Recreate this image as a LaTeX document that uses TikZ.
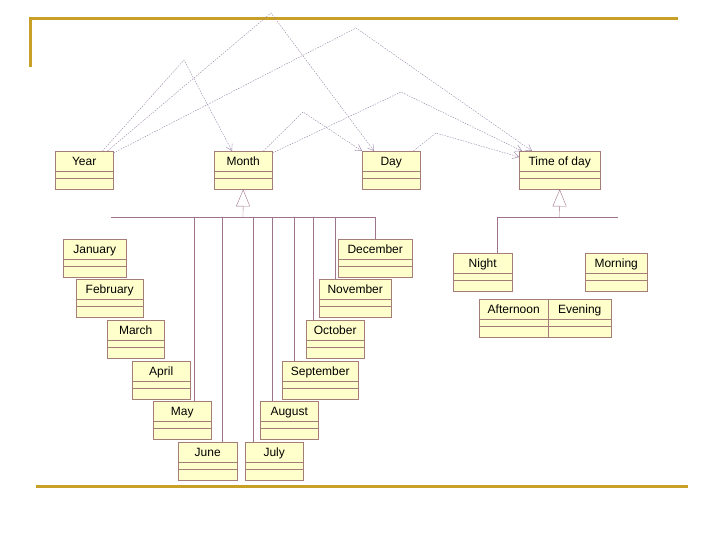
\documentclass[tikz,border=0pt]{standalone}
\usepackage{fontspec}
\setmainfont{Liberation Sans}
\usetikzlibrary{arrows.meta, calc}
\definecolor{gold}{RGB}{200,160,40}
\definecolor{boxfill}{RGB}{255,255,204}
\definecolor{boxedge}{RGB}{165,125,120}
\definecolor{genc}{RGB}{160,115,140}
\definecolor{depc}{RGB}{150,130,165}

\begin{document}
\begin{tikzpicture}[x=1pt, y=-1pt,
  every node/.style={font=\fontsize{12}{14}\selectfont},
  >={Straight Barb[length=6pt, width=7pt]},
  classbox/.style={draw=boxedge, fill=boxfill, anchor=north west,
    inner xsep=0pt, inner ysep=5.5pt, text height=9pt, text depth=18pt,
    minimum width=#1,
    path picture={
      \draw[boxedge] ([yshift=-20pt]path picture bounding box.north west) -- ([yshift=-20pt]path picture bounding box.north east);
      \draw[boxedge] ([yshift=-27pt]path picture bounding box.north west) -- ([yshift=-27pt]path picture bounding box.north east);
    }},
  genline/.style={draw=genc, thin},
  depline/.style={draw=depc, thin, dash pattern=on 1.5pt off 1.2pt, ->},
  frame/.style={draw=gold, line width=2.7pt}]
  \useasboundingbox (0,0) rectangle (720,540);

  % Frame
  \draw[frame] (30.5,67) |- (678,18.7);
  \draw[frame] (36,486.3) -- (687.5,486.3);

  % Top classes
  \node[classbox=58pt] (Year)  at (55,151)  {Year};
  \node[classbox=58pt] (Month) at (214,151) {Month};
  \node[classbox=58pt] (Day)   at (362,151) {Day};
  \node[classbox=81pt] (Time)  at (519,151) {Time of day};

  % Months
  \node[classbox=63pt] (January)   at (63,239)  {January};
  \node[classbox=67pt] (February)  at (76,279)  {February};
  \node[classbox=57pt] (March)     at (107,320) {March};
  \node[classbox=58pt] (April)     at (132,361) {April};
  \node[classbox=58pt] (May)       at (153,401) {May};
  \node[classbox=59pt] (June)      at (178,442) {June};
  \node[classbox=58pt] (July)      at (245,442) {July};
  \node[classbox=58pt] (August)    at (260,401) {August};
  \node[classbox=76pt] (September) at (282,361) {September};
  \node[classbox=58pt] (October)   at (306,320) {October};
  \node[classbox=72pt] (November)  at (319,279) {November};
  \node[classbox=74pt] (December)  at (338,239) {December};

  % Times of day
  \node[classbox=59pt] (Night)     at (453,253) {Night};
  \node[classbox=62pt] (Morning)   at (585,253) {Morning};
  \node[classbox=69pt] (Afternoon) at (479,299) {Afternoon};
  \node[classbox=63pt] (Evening)   at (548,299) {Evening};

  % Generalization of Month
  \coordinate (mbar)  at (243,217);
  \coordinate (mleft) at (111,217);
  \draw[genline, -{Triangle[open, length=17pt, width=14pt]}] (mbar) -- (Month.south);
  \draw[genline] (mleft) -- (December.north |- mbar) -- (December.north);
  \foreach \m/\dx in {May/12, June/14, July/-21, August/-17, September/-26, October/-22, November/-20}
    \draw[genline] ([xshift=\dx pt]\m.north |- mbar) -- ([xshift=\dx pt]\m.north);

  % Generalization of Time of day
  \coordinate (tbar)   at (559.5,217);
  \coordinate (tright) at (618,217);
  \draw[genline, -{Triangle[open, length=17pt, width=14pt]}] (tbar) -- (Time.south);
  \draw[genline] (tright) -- ([xshift=14pt]Night.north |- tbar) -- ([xshift=14pt]Night.north);

  % Dependencies
  \coordinate (ym) at (184,60);
  \coordinate (yd) at (271,13);
  \coordinate (yt) at (356,28);
  \coordinate (md) at (303,112);
  \coordinate (mt) at (401,92);
  \coordinate (dt) at (436,133);
  \draw[depline] ([xshift=-11pt]Year.north east) -- (ym) -- ([xshift=18pt]Month.north west);
  \draw[depline] ([xshift=-6pt]Year.north east) -- (yd) -- ([xshift=12pt]Day.north west);
  \draw[depline] ([yshift=-2pt]Year.north east) -- (yt) -- ([xshift=13pt]Time.north west);
  \draw[depline] ([xshift=-9pt]Month.north east) -- (md) -- (Day.north west);
  \draw[depline] ([yshift=-2pt]Month.north east) -- (mt) -- ([xshift=3pt]Time.north west);
  \draw[depline] ([xshift=-7pt]Day.north east) -- (dt) -- ([yshift=-6pt]Time.north west);
\end{tikzpicture}
\end{document}
